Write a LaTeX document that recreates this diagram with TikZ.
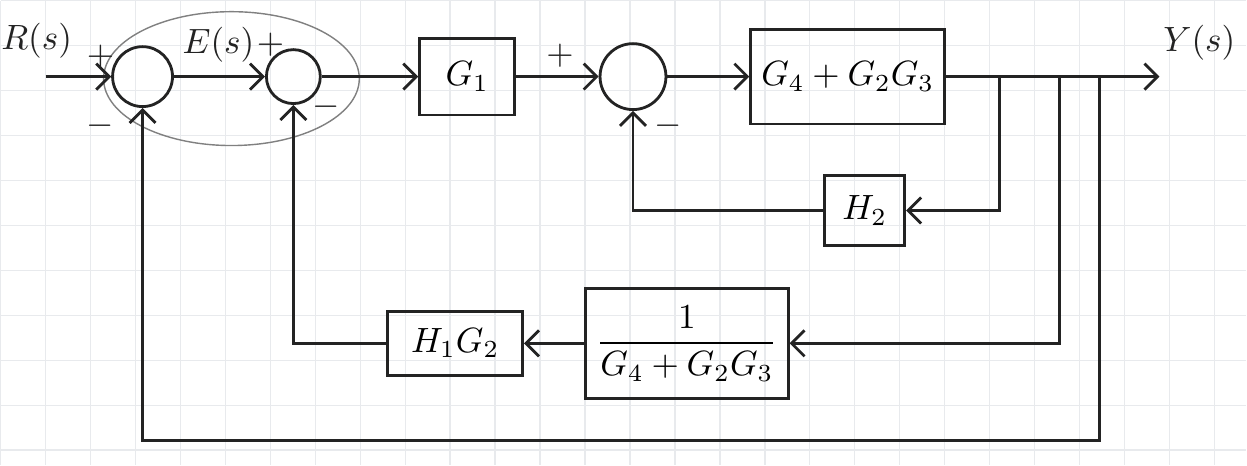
\documentclass[tikz,border=0pt]{standalone}
\usetikzlibrary{arrows.meta, positioning, calc}
\usepackage{amsmath}
\definecolor{inkcolor}{RGB}{35,35,35}
\definecolor{gridcolor}{RGB}{232,234,237}
\tikzset{
  block/.style = {draw=inkcolor, thick, font=\normalsize, inner sep=3pt},
  sum/.style   = {circle, draw=inkcolor, thick, inner sep=0pt},
  arrow/.style = {->, >={Straight Barb[length=1.3mm, width=2.6mm]}, thick, color=inkcolor},
  sign/.style  = {font=\normalsize, text=inkcolor, inner sep=1pt},
}

\begin{document}
\begin{tikzpicture}[x=0.1mm, y=-0.1mm]
  % paper
  \fill[white] (0,0) rectangle (1247,465);
  \draw[gridcolor, step=4.5mm] (0,0) grid (1247,465);
  \useasboundingbox (0,0) rectangle (1247,465);
  % summing points
  \node[sum, minimum size=6mm]   (s1) at (142,76) {};
  \node[sum, minimum size=5.4mm] (s2) at (293,76) {};
  \node[sum, minimum size=6.6mm] (s3) at (633,76) {};
  \draw[gray, thin] (231,78) ellipse [x radius=12.8mm, y radius=6.7mm];
  % blocks
  \node[block, minimum width=9.5mm, minimum height=7.7mm] (g1) at (467,76) {$G_1$};
  \node[block, minimum width=19.3mm, minimum height=9.5mm] (g4) at (848,76) {$G_4+G_2G_3$};
  \node[block, minimum width=8mm, minimum height=7mm] (h2) at (865,210) {$H_2$};
  \node[block, minimum width=17.7mm, minimum height=11mm] (inv) at (687,343) {$\dfrac{1}{G_4+G_2G_3}$};
  \node[block, minimum width=13.5mm, minimum height=6.4mm] (h1g2) at (455,343) {$H_1G_2$};
  % signals
  \node[sign] (rs) at (36,40) {$R(s)$};
  \node[sign] (es) at (218,44) {$E(s)$};
  \node[sign] (ys) at (1200,42) {$Y(s)$};
  \coordinate (in)  at (45,76);
  \coordinate (out) at (1160,76);
  \coordinate (b1)  at (1000,76);
  \coordinate (b2)  at (1060,76);
  \coordinate (b3)  at (1100,76);
  \coordinate (bl)  at (142,440);
  % signs
  \node[sign] (p1) at (100,56)  {$+$};
  \node[sign] (m1) at (100,125) {$-$};
  \node[sign] (p2) at (270,44)  {$+$};
  \node[sign] (m2) at (326,106) {$-$};
  \node[sign] (p3) at (560,55)  {$+$};
  \node[sign] (m3) at (668,125) {$-$};
  % forward path
  \draw[arrow] (in) -- (s1.west);
  \draw[arrow] (s1.east) -- (s2.west);
  \draw[arrow] (s2.east) -- (g1.west);
  \draw[arrow] (g1.east) -- (s3.west);
  \draw[arrow] (s3.east) -- (g4.west);
  \draw[arrow] (g4.east) -- (out);
  % feedback paths
  \draw[arrow] (b1) |- (h2.east);
  \draw[arrow] (h2.west) -| (s3.south);
  \draw[arrow] (b2) |- (inv.east);
  \draw[arrow] (inv.west) -- (h1g2.east);
  \draw[arrow] (h1g2.west) -| (s2.south);
  \draw[arrow] (b3) |- (bl) -- (s1.south);
\end{tikzpicture}
\end{document}
